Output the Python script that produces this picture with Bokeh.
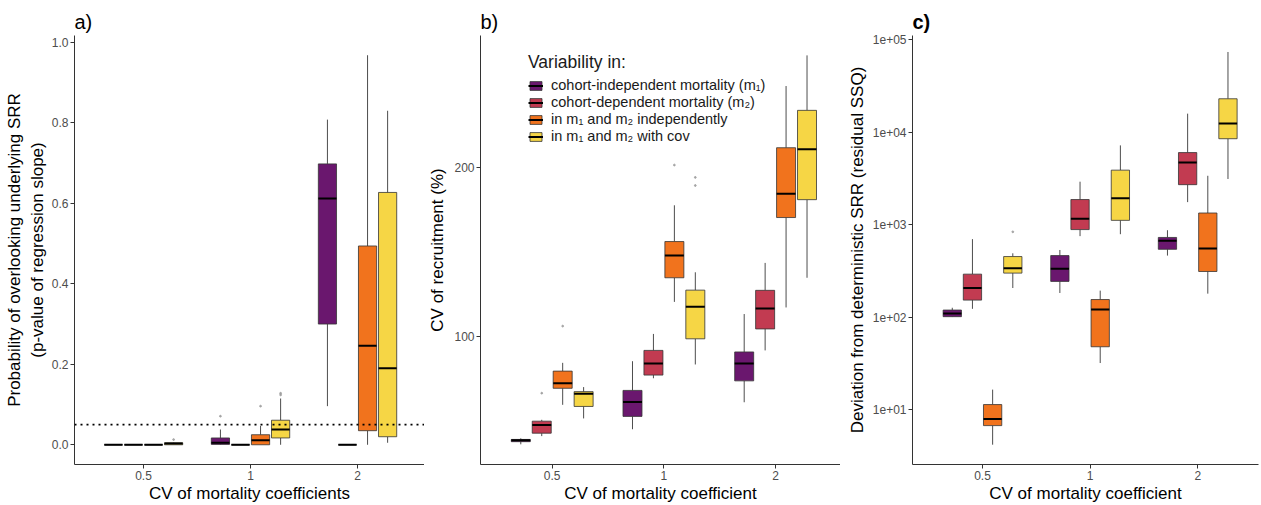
from bokeh.plotting import figure
from bokeh.layouts import row
from bokeh.models import (ColumnDataSource, FixedTicker, Range1d, Span, Legend, LegendItem,
                          PrintfTickFormatter, CustomJSTickFormatter)
from bokeh.embed import file_html
from bokeh.resources import INLINE

# ---------------- data ----------------
categories = ["0.5", "1", "2"]
series_labels = [
    "cohort-independent mortality (m\u2081)",
    "cohort-dependent mortality (m\u2082)",
    "in m\u2081 and m\u2082 independently",
    "in m\u2081 and m\u2082 with cov",
]
colors = ["#6A176E", "#C23B51", "#F1731D", "#F6D645"]

# Panel a: p-value of regression slope (per series, per category)
a_lo = [[0, 0.0, 0.096], [0, 0, 0], [0, 0, 0], [0, 0, 0.005]]
a_q1 = [[0, 0.001, 0.30], [0, 0, 0], [0, 0, 0.035], [0, 0.017, 0.02]]
a_med = [[0, 0.005, 0.612], [0, 0, 0], [0, 0.011, 0.246], [0.003, 0.038, 0.19]]
a_q3 = [[0, 0.017, 0.698], [0, 0, 0], [0, 0.025, 0.494], [0.005, 0.061, 0.627]]
a_hi = [[0, 0.038, 0.808], [0, 0, 0], [0, 0.047, 0.968], [0.006, 0.115, 0.83]]
a_out_cat = ["0.5", "1", "1", "1", "1"]
a_out_series = [3, 0, 2, 3, 3]
a_out_val = [0.013, 0.071, 0.096, 0.124, 0.128]
a_threshold = 0.05

# Panel b: CV of recruitment (%)
b_lo = [[64.1, 68.2, 76.2], [66.3, 84.1, 94.3], [75.4, 115.1, 112.5], [71.3, 89.0, 127.1]]
b_q1 = [[64.8, 71.9, 83.2], [67.1, 85.2, 103.0], [80.7, 127.1, 162.8], [74.9, 98.9, 175.2]]
b_med = [[65.2, 76.3, 89.4], [69.4, 89.4, 112.0], [82.4, 139.3, 179.5], [78.9, 112.8, 215.6]]
b_q3 = [[65.4, 80.0, 93.7], [70.5, 94.3, 120.7], [86.6, 147.5, 216.9], [79.6, 120.8, 252.9]]
b_hi = [[65.7, 90.2, 109.5], [70.9, 100.9, 135.1], [89.6, 171.2, 279.5], [81.1, 130.0, 317.0]]
b_out_cat = ["0.5", "0.5", "1", "1", "1"]
b_out_series = [1, 2, 2, 3, 3]
b_out_val = [79.1, 104.2, 202.0, 185.7, 192.0]
b_ticks = [100, 200]

# Panel c: residual SSQ
c_lo = [[100, 182, 462], [122.7, 750, 1750], [4.16, 31.8, 179], [206, 787, 3113]]
c_q1 = [[100.9, 243, 540], [152.4, 883, 2703], [6.69, 47.7, 311], [298.6, 1111, 8490]]
c_med = [[109.4, 332, 668], [206, 1159, 4695], [7.89, 120.8, 550], [338, 1932, 12390]]
c_q3 = [[119, 462, 726], [291, 1866, 6010], [11.3, 154.6, 1334], [451, 3880, 22960]]
c_hi = [[126, 531, 869], [696, 2910, 15850], [16.4, 193, 3373], [489, 7190, 73600]]
c_out_cat = ["0.5"]
c_out_series = [3]
c_out_val = [835]
c_ticks = [10, 100, 1000, 10000, 100000]

# ---------------- styling helpers ----------------
FONT = "Liberation Sans"
OFFSETS = [-0.28125, -0.09375, 0.09375, 0.28125]
HALF = 0.085
FIG_H = 505


def make_fig(title, width, border_left, border_right, x_rng, y_rng, y_type="linear", bold=False):
    p = figure(width=width, height=FIG_H, x_range=Range1d(*x_rng), y_range=Range1d(*y_rng),
               y_axis_type=y_type, output_backend="svg", toolbar_location=None,
               min_border_left=border_left, min_border_right=border_right, min_border_top=35,
               min_border_bottom=36)
    p.title.text = title
    p.title.text_font = FONT
    p.title.text_font_size = "20px"
    p.title.text_color = "black"
    p.title.text_font_style = "bold" if bold else "normal"
    p.title.align = "left"
    p.title.standoff = 6
    p.xgrid.visible = False
    p.ygrid.visible = False
    p.outline_line_color = None
    p.background_fill_color = "white"
    for ax in (p.xaxis[0], p.yaxis[0]):
        ax.axis_line_color = "#333333"
        ax.axis_line_width = 1
        ax.major_tick_line_color = "#333333"
        ax.major_tick_out = 4
        ax.major_tick_in = 0
        ax.minor_tick_line_color = None
        ax.major_label_text_font = FONT
        ax.major_label_text_font_size = "12px"
        ax.major_label_text_color = "#4D4D4D"
        ax.major_label_standoff = 2
        ax.axis_label_text_font = FONT
        ax.axis_label_text_font_size = "17px"
        ax.axis_label_text_font_style = "normal"
        ax.axis_label_text_color = "black"
    p.xaxis[0].ticker = FixedTicker(ticks=[i + 1 for i in range(len(categories))])
    p.xaxis[0].major_label_overrides = {i + 1: c for i, c in enumerate(categories)}
    p.xaxis[0].axis_label_standoff = 1
    return p


def draw_boxes(p, lo, q1, med, q3, hi, out_cat, out_series, out_val):
    rends = []
    for s in range(len(series_labels)):
        xs = [categories.index(c) + 1 + OFFSETS[s] for c in categories]
        src = ColumnDataSource(dict(
            x=xs, left=[x - HALF for x in xs], right=[x + HALF for x in xs],
            lo=lo[s], q1=q1[s], med=med[s], q3=q3[s], hi=hi[s]))
        p.segment(x0="x", y0="lo", x1="x", y1="q1", source=src,
                  line_color="#4D4D4D", line_width=1)
        p.segment(x0="x", y0="q3", x1="x", y1="hi", source=src,
                  line_color="#4D4D4D", line_width=1)
        qr = p.quad(left="left", right="right", bottom="q1", top="q3", source=src,
                    fill_color=colors[s], line_color="#333333", line_width=0.8)
        mr = p.segment(x0="left", y0="med", x1="right", y1="med", source=src,
                       line_color="black", line_width=2)
        rends.append([qr, mr])
    ox = [categories.index(c) + 1 + OFFSETS[s] for c, s in zip(out_cat, out_series)]
    p.scatter(x=ox, y=out_val, size=1.8, color="#9a9a9a", alpha=0.8)
    return rends


# ---------------- panel a ----------------
pa = make_fig("a)", 424, 74, 0, (0.355, 3.626), (-0.049, 1.017))
pa.yaxis[0].ticker = FixedTicker(ticks=[0, 0.2, 0.4, 0.6, 0.8, 1.0])
pa.yaxis[0].formatter = PrintfTickFormatter(format="%.1f")
pa.yaxis[0].axis_label = "Probability of overlooking underlying SRR\n(p-value of regression slope)"
pa.yaxis[0].axis_label_standoff = 2
pa.xaxis[0].axis_label = "CV of mortality coefficients"
draw_boxes(pa, a_lo, a_q1, a_med, a_q3, a_hi, a_out_cat, a_out_series, a_out_val)
pa.add_layout(Span(location=a_threshold, dimension="width", line_color="black",
                   line_width=1.6, line_dash="2 4"))

# ---------------- panel b ----------------
pb = make_fig("b)", 416, 56, 0, (0.358, 3.581), (59.0, 344.0), y_type="log")
pb.yaxis[0].ticker = FixedTicker(ticks=b_ticks)
pb.yaxis[0].formatter = CustomJSTickFormatter(code="return tick.toFixed(0);")
pb.yaxis[0].axis_label = "CV of recruitment (%)"
pb.yaxis[0].axis_label_standoff = 4
pb.xaxis[0].axis_label = "CV of mortality coefficient"
rb = draw_boxes(pb, b_lo, b_q1, b_med, b_q3, b_hi, b_out_cat, b_out_series, b_out_val)
legend = Legend(
    items=[LegendItem(label=series_labels[i], renderers=rb[i]) for i in range(4)],
    location=(48, 320), title="Variability in:",
    title_text_font=FONT, title_text_font_size="17.5px", title_text_font_style="normal",
    title_text_color="#1a1a1a", title_standoff=4,
    label_text_font=FONT, label_text_font_size="14.5px", label_text_color="#1a1a1a",
    glyph_width=15, glyph_height=11, label_height=13, spacing=1, padding=4, margin=0,
    label_standoff=8, border_line_color=None, background_fill_alpha=0)
pb.add_layout(legend)

# ---------------- panel c ----------------
pc = make_fig("c)", 421, 72, 3, (0.349, 3.565), (2.54, 1.11e5), y_type="log", bold=True)
pc.yaxis[0].ticker = FixedTicker(ticks=c_ticks)
pc.yaxis[0].formatter = CustomJSTickFormatter(
    code="var e = Math.round(Math.log10(tick)); return '1e+' + (e < 10 ? '0' : '') + e;")
pc.yaxis[0].axis_label = "Deviation from deterministic SRR (residual SSQ)"
pc.yaxis[0].axis_label_standoff = 3
pc.xaxis[0].axis_label = "CV of mortality coefficient"
draw_boxes(pc, c_lo, c_q1, c_med, c_q3, c_hi, c_out_cat, c_out_series, c_out_val)

layout = row(pa, pb, pc, spacing=0)
open("out.html", "w").write(file_html(layout, INLINE))
